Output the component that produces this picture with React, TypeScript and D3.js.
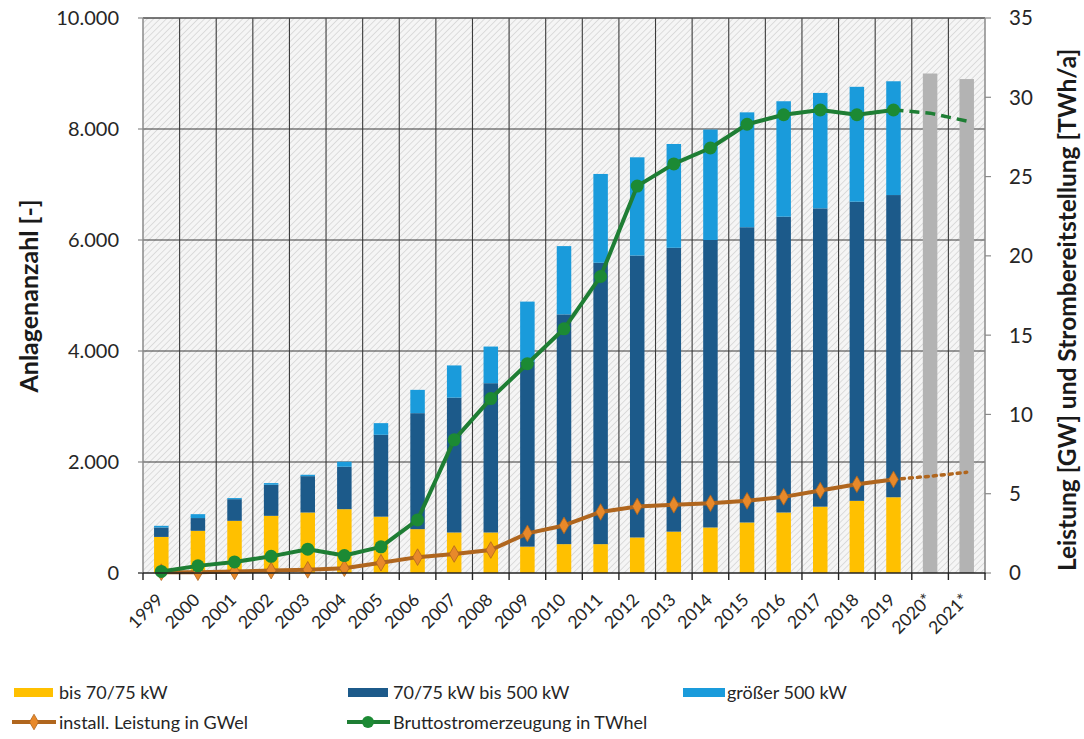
import React from "react";
import * as d3 from "d3";

// Years on the category axis (projections marked with *)
const years = [
  "1999", "2000", "2001", "2002", "2003", "2004", "2005", "2006", "2007", "2008",
  "2009", "2010", "2011", "2012", "2013", "2014", "2015", "2016", "2017", "2018",
  "2019", "2020*", "2021*",
];

// Plant counts by size class, 1999–2019
const upTo75kW = [650, 760, 940, 1030, 1090, 1150, 1015, 790, 730, 730, 475, 520, 520, 640, 745, 820, 910, 1090, 1195, 1300, 1365];
const from75To500kW = [170, 230, 390, 560, 655, 765, 1475, 2090, 2430, 2690, 3335, 4140, 5070, 5080, 5115, 5180, 5320, 5330, 5375, 5390, 5445];
const above500kW = [30, 70, 20, 30, 25, 90, 210, 420, 580, 660, 1080, 1230, 1600, 1770, 1870, 1990, 2070, 2080, 2080, 2070, 2050];

// Projected total plant counts for 2020* and 2021*
const forecastYears = ["2020*", "2021*"];
const forecastTotal = [9000, 8900];

// Installed capacity [GWel] and gross generation [TWhel]
const capacityGW = [0.05, 0.05, 0.1, 0.15, 0.2, 0.3, 0.65, 1.0, 1.2, 1.45, 2.5, 3.0, 3.85, 4.2, 4.3, 4.4, 4.55, 4.8, 5.2, 5.6, 5.9];
const generationTWh = [0.1, 0.45, 0.7, 1.05, 1.5, 1.1, 1.65, 3.35, 8.4, 11.0, 13.2, 15.4, 18.7, 24.4, 25.8, 26.8, 28.3, 28.9, 29.2, 28.9, 29.2];
const outlookYears = ["2019", "2020*", "2021*"];
const capacityOutlook = [5.9, 6.1, 6.35];
const generationOutlook = [29.2, 29.0, 28.5];

const leftTicks = [0, 2000, 4000, 6000, 8000, 10000];
const rightTicks = [0, 5, 10, 15, 20, 25, 30, 35];

const FONT = "Lato, 'Open Sans', sans-serif";
const C_SMALL = "#FFC000";
const C_MID = "#1C5A8A";
const C_LARGE = "#1A9BDB";
const C_GREY = "#B3B3B3";
const C_GREEN = "#1E7E34";
const C_GREEN_M = "#1C8A34";
const C_BROWN = "#B0661E";
const C_ORANGE = "#E8892A";

const W = 1084;
const H = 739;
const left = 143;
const right = 985;
const top = 18;
const bottom = 573;

const deLocale = d3.formatLocale({ decimal: ",", thousands: ".", grouping: [3], currency: ["", " €"] });
const fmtCount = deLocale.format(",");

export default function App() {
  const x = d3.scaleBand<string>().domain(years).range([left, right]).paddingInner(0).paddingOuter(0);
  const yL = d3.scaleLinear().domain([0, 10000]).range([bottom, top]);
  const yR = d3.scaleLinear().domain([0, 35]).range([bottom, top]);
  const barW = 14.5;
  const cx = (yr: string) => (x(yr) as number) + x.bandwidth() / 2;

  const histYears = years.slice(0, upTo75kW.length);
  const stackRows = histYears.map((yr, i) => ({
    year: yr,
    small: upTo75kW[i],
    mid: from75To500kW[i],
    large: above500kW[i],
  }));
  const stacked = d3.stack<any>().keys(["small", "mid", "large"])(stackRows);
  const stackColors = [C_SMALL, C_MID, C_LARGE];

  const line = d3.line<[string, number]>().x((d) => cx(d[0])).y((d) => yR(d[1]));
  const capPts: [string, number][] = histYears.map((yr, i) => [yr, capacityGW[i]]);
  const genPts: [string, number][] = histYears.map((yr, i) => [yr, generationTWh[i]]);
  const capOut: [string, number][] = outlookYears.map((yr, i) => [yr, capacityOutlook[i]]);
  const genOut: [string, number][] = outlookYears.map((yr, i) => [yr, generationOutlook[i]]);
  const diamond = d3.symbol().type(d3.symbolDiamond).size(80)() as string;
  const diamondSmall = d3.symbol().type(d3.symbolDiamond).size(70)() as string;

  const boundaries = years.map((yr) => x(yr) as number).concat([right]);

  return (
    <svg
      width={W}
      height={H}
      style={{ position: "absolute", left: 0, top: 0, background: "#fff", fontFamily: FONT }}
    >
      <defs>
        <pattern id="hatch" patternUnits="userSpaceOnUse" width="4.5" height="4.5" patternTransform="rotate(45)">
          <rect width="4.5" height="4.5" fill="#f5f5f5" />
          <line x1="0" y1="0" x2="0" y2="4.5" stroke="#d2d2d2" strokeWidth="1.4" />
        </pattern>
      </defs>

      {/* plot background */}
      <rect x={left} y={top} width={right - left} height={bottom - top} fill="url(#hatch)" />

      {/* grid */}
      {leftTicks.filter((t) => t > 0).map((t) => (
        <line key={"h" + t} x1={left} x2={right} y1={yL(t)} y2={yL(t)} stroke="#3a3a3a" strokeWidth={1.1} />
      ))}
      {boundaries.slice(1, -1).map((bx, i) => (
        <line key={"v" + i} x1={bx} x2={bx} y1={top} y2={bottom} stroke="#3a3a3a" strokeWidth={1.1} />
      ))}

      {/* stacked bars */}
      {stacked.map((layer, li) => (
        <g key={"layer" + li} fill={stackColors[li]}>
          {layer.map((d: any, i: number) => (
            <rect
              key={i}
              x={cx(histYears[i]) - barW / 2}
              width={barW}
              y={yL(d[1])}
              height={yL(d[0]) - yL(d[1])}
            />
          ))}
        </g>
      ))}
      {forecastYears.map((yr, i) => (
        <rect
          key={"f" + yr}
          x={cx(yr) - barW / 2}
          width={barW}
          y={yL(forecastTotal[i])}
          height={yL(0) - yL(forecastTotal[i])}
          fill={C_GREY}
        />
      ))}

      {/* installed capacity */}
      <path d={line(capOut) as string} fill="none" stroke={C_BROWN} strokeWidth={3.5} strokeDasharray="3 5" strokeLinecap="round" />
      <path d={line(capPts) as string} fill="none" stroke={C_BROWN} strokeWidth={4} strokeLinejoin="round" />
      {capPts.map((d, i) => (
        <path key={"cm" + i} d={diamond} transform={`translate(${cx(d[0])},${yR(d[1])})`} fill={C_ORANGE} stroke={C_BROWN} strokeWidth={0.8} />
      ))}

      {/* gross generation */}
      <path d={line(genOut) as string} fill="none" stroke={C_GREEN} strokeWidth={3.5} strokeDasharray="10 6" />
      <path d={line(genPts) as string} fill="none" stroke={C_GREEN} strokeWidth={4} strokeLinejoin="round" />
      {genPts.map((d, i) => (
        <circle key={"gm" + i} cx={cx(d[0])} cy={yR(d[1])} r={6.5} fill={C_GREEN_M} />
      ))}

      {/* frame */}
      <line x1={left} x2={right} y1={top} y2={top} stroke="#555" strokeWidth={1.2} />
      <line x1={left} x2={left} y1={top} y2={bottom} stroke="#8a8a8a" strokeWidth={1.5} />
      <line x1={right} x2={right} y1={top} y2={bottom} stroke="#8a8a8a" strokeWidth={1.5} />
      <line x1={left - 5} x2={right + 1} y1={bottom} y2={bottom} stroke="#222" strokeWidth={1.6} />

      {/* left axis */}
      {leftTicks.map((t) => (
        <g key={"lt" + t}>
          <line x1={left - 5} x2={left} y1={yL(t)} y2={yL(t)} stroke="#8a8a8a" strokeWidth={1.2} />
          <text x={119} y={yL(t)} dy="0.36em" textAnchor="end" fontSize={20} fill="#262626">
            {fmtCount(t)}
          </text>
        </g>
      ))}
      <text
        transform={`translate(38,296) rotate(-90)`}
        textAnchor="middle"
        fontSize={25}
        fontWeight="bold"
        fill="#1a1a1a"
      >
        Anlagenanzahl [-]
      </text>

      {/* right axis */}
      {rightTicks.map((t) => (
        <g key={"rt" + t}>
          <line x1={right} x2={right + 6} y1={yR(t)} y2={yR(t)} stroke="#8a8a8a" strokeWidth={1.2} />
          <text x={1009} y={yR(t)} dy="0.36em" textAnchor="start" fontSize={20.5} fill="#262626">
            {t}
          </text>
        </g>
      ))}
      <text
        transform={`translate(1076,310) rotate(-90)`}
        textAnchor="middle"
        fontSize={24.5}
        fontWeight="bold"
        fill="#1a1a1a"
      >
        Leistung [GW] und Strombereitstellung [TWh/a]
      </text>

      {/* category axis */}
      {boundaries.map((bx, i) => (
        <line key={"xt" + i} x1={bx} x2={bx} y1={bottom} y2={bottom + 7} stroke="#222" strokeWidth={1.4} />
      ))}
      {years.map((yr) => (
        <text
          key={"xl" + yr}
          transform={`translate(${cx(yr) + 3},${bottom + 28}) rotate(-45)`}
          textAnchor="end"
          fontSize={17.5}
          fill="#262626"
        >
          {yr}
        </text>
      ))}

      {/* legend */}
      <g fontSize={18} fill="#262626">
        <rect x={14} y={688} width={39} height={9} fill={C_SMALL} />
        <text x={59} y={699}>bis 70/75 kW</text>
        <rect x={348} y={688} width={40} height={9} fill={C_MID} />
        <text x={393} y={699}>70/75 kW bis 500 kW</text>
        <rect x={683} y={688} width={42} height={9} fill={C_LARGE} />
        <text x={727} y={699}>größer 500 kW</text>

        <line x1={12} x2={56} y1={722} y2={722} stroke={C_BROWN} strokeWidth={4} />
        <path d={diamondSmall} transform="translate(34,722)" fill={C_ORANGE} stroke={C_BROWN} strokeWidth={0.8} />
        <text x={59} y={729}>install. Leistung in GWel</text>
        <line x1={347} x2={390} y1={722} y2={722} stroke={C_GREEN} strokeWidth={4} />
        <circle cx={368} cy={722} r={6} fill={C_GREEN_M} />
        <text x={393} y={729}>Bruttostromerzeugung in TWhel</text>
      </g>
    </svg>
  );
}
